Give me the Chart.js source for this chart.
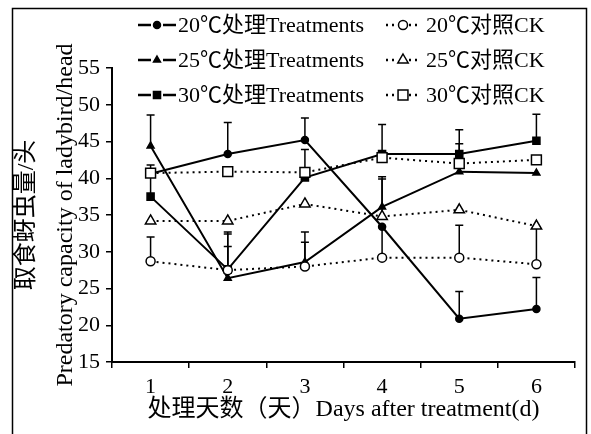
<!DOCTYPE html>
<html lang="zh">
<head>
<meta charset="UTF-8">
<title>Predatory capacity of ladybird</title>
<script src="https://cdn.jsdelivr.net/npm/chart.js@4.4.1/dist/chart.umd.min.js"></script>
<style>
  html, body { margin: 0; padding: 0; background: #fff; }
  #wrap { position: relative; width: 591px; height: 434px; }
</style>
</head>
<body>
<div id="wrap"><canvas id="chart"></canvas></div>
<script>
// x categories and y ticks
const days = ['1', '2', '3', '4', '5', '6'];
const yMin = 15, yMax = 55, yStep = 5;

// treatments (solid lines)
const treat20 = [40.6, 43.3, 45.2, 33.4, 20.9, 22.2];
const treat25 = [44.4, 26.4, 28.6, 36.1, 40.9, 40.7];
const treat30 = [37.5, 27.6, 40.1, 43.3, 43.3, 45.1];
// controls (dotted lines)
const ck20 = [28.7, 27.5, 28.0, 29.2, 29.2, 28.3];
const ck25 = [34.2, 34.2, 36.5, 34.8, 35.7, 33.5];
const ck30 = [40.7, 40.9, 40.8, 42.8, 42.0, 42.5];

// upper error bars (0 = not visible)
const treat20Err = [0, 4.3, 3.0, 0, 3.7, 4.3];
const treat25Err = [4.2, 6.0, 4.1, 4.1, 0, 0];
const treat30Err = [4.3, 5.1, 3.8, 4.0, 3.3, 3.6];
const ck20Err = [3.3, 3.2, 3.3, 4.2, 4.4, 5.1];
const ck25Err = [0, 0, 0, 5.1, 0, 0];
const ck30Err = [0, 0, 0, 0, 2.7, 0];

const names = ['20℃处理Treatments', '25℃处理Treatments', '30℃处理Treatments',
               '20℃对照CK', '25℃对照CK', '30℃对照CK'];

const FONT = "'Liberation Serif', 'Noto Sans CJK SC', serif";
Chart.defaults.font.family = FONT;
Chart.defaults.color = '#000';

function makeSet(i, data, errors, style, radius, filled, dotted) {
  return {
    label: names[i],
    data: data,
    errors: errors,
    order: dotted ? 0 : 1,   // controls drawn on top
    borderColor: '#000',
    borderWidth: 2,
    borderDash: dotted ? [2, 4] : [],
    pointStyle: style,
    pointRadius: radius,
    pointHoverRadius: radius,
    pointBorderWidth: 1.5,
    pointBorderColor: '#000',
    pointBackgroundColor: filled ? '#000' : '#fff',
    tension: 0
  };
}

function drawMarker(ctx, style, r, x, y, filled) {
  ctx.beginPath();
  if (style === 'circle') {
    ctx.arc(x, y, r, 0, Math.PI * 2);
  } else if (style === 'triangle') {
    ctx.moveTo(x, y - r);
    ctx.lineTo(x + 0.866 * r, y + 0.5 * r);
    ctx.lineTo(x - 0.866 * r, y + 0.5 * r);
    ctx.closePath();
  } else {
    const s = Math.SQRT1_2 * r;
    ctx.rect(x - s, y - s, 2 * s, 2 * s);
  }
  ctx.fillStyle = filled ? '#000' : '#fff';
  ctx.fill();
  ctx.lineWidth = 1.5;
  ctx.strokeStyle = '#000';
  ctx.stroke();
}

// outer frame
const frame = {
  id: 'frame',
  beforeDraw(chart) {
    const ctx = chart.ctx;
    ctx.save();
    ctx.fillStyle = '#fff';
    ctx.fillRect(0, 0, chart.width, chart.height);
    ctx.strokeStyle = '#000';
    ctx.lineWidth = 1.5;
    ctx.strokeRect(12.5, 8.5, 574, 430);
    ctx.restore();
  }
};

// upper error bars
const errorBars = {
  id: 'errorBars',
  beforeDatasetsDraw(chart) {
    const ctx = chart.ctx, ys = chart.scales.y;
    ctx.save();
    ctx.strokeStyle = '#000';
    ctx.lineWidth = 1.5;
    chart.data.datasets.forEach((ds, i) => {
      const meta = chart.getDatasetMeta(i);
      ds.errors.forEach((e, j) => {
        if (!e) return;
        const pt = meta.data[j];
        const top = ys.getPixelForValue(ds.data[j] + e);
        ctx.beginPath();
        ctx.moveTo(pt.x, pt.y);
        ctx.lineTo(pt.x, top);
        ctx.moveTo(pt.x - 4, top);
        ctx.lineTo(pt.x + 4, top);
        ctx.stroke();
      });
    });
    ctx.restore();
  }
};

// two column legend at the top
const legendBox = {
  id: 'legendBox',
  afterDraw(chart) {
    const ctx = chart.ctx;
    const rows = [25, 60, 95];
    const cols = [{x0: 138, x1: 176, tx: 178}, {x0: 386, x1: 420, tx: 426}];
    ctx.save();
    ctx.font = '22px ' + FONT;
    ctx.textBaseline = 'middle';
    ctx.fillStyle = '#000';
    chart.data.datasets.forEach((ds, i) => {
      const c = cols[i < 3 ? 0 : 1], y = rows[i % 3];
      const mid = (c.x0 + c.x1) / 2;
      ctx.strokeStyle = '#000';
      ctx.lineWidth = 2.5;
      ctx.setLineDash(ds.borderDash);
      ctx.beginPath();
      ctx.moveTo(c.x0, y); ctx.lineTo(mid - 6, y);
      ctx.moveTo(mid + 6, y); ctx.lineTo(c.x1, y);
      ctx.stroke();
      ctx.setLineDash([]);
      drawMarker(ctx, ds.pointStyle, ds.pointRadius, mid, y, ds.pointBackgroundColor === '#000');
      ctx.fillStyle = '#000';
      ctx.fillText(ds.label, c.tx, y + 1);
    });
    ctx.restore();
  }
};

new Chart(document.getElementById('chart'), {
  type: 'line',
  data: {
    labels: days,
    datasets: [
      makeSet(0, treat20, treat20Err, 'circle', 3.5, true, false),
      makeSet(1, treat25, treat25Err, 'triangle', 4, true, false),
      makeSet(2, treat30, treat30Err, 'rect', 5, true, false),
      makeSet(3, ck20, ck20Err, 'circle', 4.5, false, true),
      makeSet(4, ck25, ck25Err, 'triangle', 6, false, true),
      makeSet(5, ck30, ck30Err, 'rect', 7, false, true)
    ]
  },
  options: {
    responsive: true,
    maintainAspectRatio: false,
    animation: false,
    layout: { padding: { left: 8, right: 16, top: 68, bottom: 10 } },
    plugins: { legend: { display: false }, tooltip: { enabled: false } },
    scales: {
      x: {
        type: 'category',
        offset: true,
        afterFit(s) { s.height = 62; },
        grid: { offset: true, drawOnChartArea: false, tickLength: 6, color: '#000', lineWidth: 1.5 },
        border: { color: '#000', width: 2 },
        ticks: { padding: 6, font: { size: 22 }, color: '#000' },
        title: {
          display: true,
          text: '处理天数（天）Days after treatment(d)',
          font: { size: 24 },
          padding: { top: 0, bottom: 0 },
          color: '#000'
        }
      },
      y: {
        min: yMin,
        max: yMax,
        afterFit(s) { s.width = 104; },
        grid: { drawOnChartArea: false, tickLength: 6, color: '#000', lineWidth: 1.5 },
        border: { color: '#000', width: 2 },
        ticks: { stepSize: yStep, padding: 6, font: { size: 22 }, color: '#000' },
        title: {
          display: true,
          text: ['取食蚜虫量/头', 'Predatory capacity of ladybird/head'],
          font: { size: 24, lineHeight: 1.6 },
          padding: { top: 0, bottom: 0 },
          color: '#000'
        }
      }
    }
  },
  plugins: [frame, errorBars, legendBox]
});
</script>
</body>
</html>
